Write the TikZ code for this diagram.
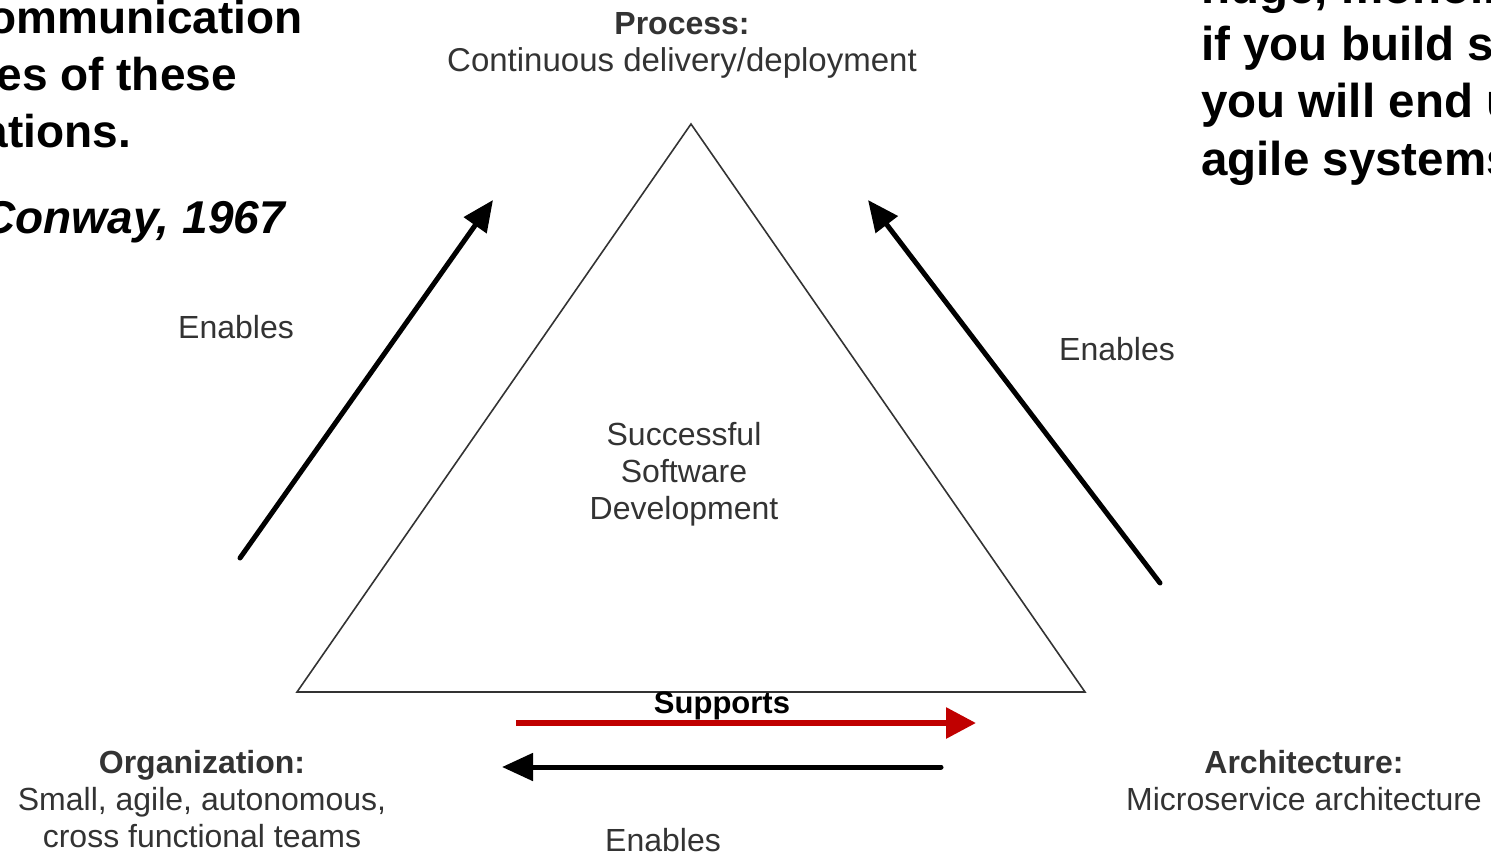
\documentclass[tikz,border=0pt]{standalone}
\usepackage{fontspec}
\setmainfont{Liberation Sans}
\usetikzlibrary{arrows.meta}
\definecolor{labelgray}{HTML}{333333}
\definecolor{supportred}{HTML}{C00000}
\tikzset{
  lbl/.style={font=\fontsize{32}{37}\selectfont, text=labelgray, align=center, inner sep=0pt},
  quote/.style={font=\fontsize{46}{57}\selectfont\bfseries, inner sep=0pt},
  bigarrow/.style={line width=5pt, line cap=round, -{Triangle[length=31pt,width=27pt]}},
}
\begin{document}
\begin{tikzpicture}[x=1pt, y=-1pt]
                \useasboundingbox (0,0) rectangle (1491,852);
                \clip (0,0) rectangle (1491,852);
                % Conway quote, cut off by the frame
                \node[quote, anchor=base east] (q1) at (303,33) {the communication};
                \node[quote, anchor=base east] (q2) at (237,90) {structures of these};
                \node[quote, anchor=base east] (q3) at (131,147) {organizations.};
                \node[quote, anchor=base east] (q4) at (285,233) {\itshape Conway, 1967};
                \node[quote, font=\fontsize{47.5}{57}\selectfont\bfseries, anchor=base west] (r1) at (1201,3) {huge, monolithic};
                \node[quote, font=\fontsize{47.5}{57}\selectfont\bfseries, anchor=base west] (r2) at (1201,60) {if you build small,};
                \node[quote, font=\fontsize{47.5}{57}\selectfont\bfseries, anchor=base west] (r3) at (1201,117) {you will end up with};
                \node[quote, font=\fontsize{47.5}{57}\selectfont\bfseries, anchor=base west] (r4) at (1201,175) {agile systems.};
                % triangle
                \coordinate (apex) at (691,124);
                \coordinate (bl) at (297,692);
                \coordinate (br) at (1085,692);
                \draw[labelgray, line width=1.6pt] (apex) -- (bl) -- (br) -- cycle;
                \node[lbl] (core) at (684,474) {Successful\\Software\\Development};
                \node[lbl] (process) at (682,45) {\textbf{Process:}\\{\fontsize{33}{37}\selectfont Continuous delivery/deployment}};
                \node[lbl] (org) at (202,799) {\textbf{Organization:}\\Small, agile, autonomous,\\cross functional teams};
                \node[lbl] (arch) at (1304,781) {\textbf{Architecture:}\\Microservice architecture};
                % arrows
                \coordinate (la0) at (240,558);
                \coordinate (la1) at (493,200);
                \coordinate (ra0) at (1160,583);
                \coordinate (ra1) at (868,200);
                \coordinate (sa0) at (516,723);
                \coordinate (sa1) at (976,723);
                \coordinate (ba0) at (941,767);
                \coordinate (ba1) at (502,767);
                \draw[bigarrow] (la0) -- (la1);
                \draw[bigarrow] (ra0) -- (ra1);
                \draw[supportred, line width=6pt, -{Triangle[length=30pt,width=30pt]}] (sa0) -- (sa1);
                \draw[bigarrow] (ba0) -- (ba1);
                \node[lbl] (enl) at (236,327) {Enables};
                \node[lbl] (enr) at (1117,349) {Enables};
                \node[lbl] (enb) at (663,840) {Enables};
                \node[lbl, text=black, font=\fontsize{31}{37}\selectfont\bfseries] (sup) at (722,706) {Supports};
            \end{tikzpicture}
\end{document}
